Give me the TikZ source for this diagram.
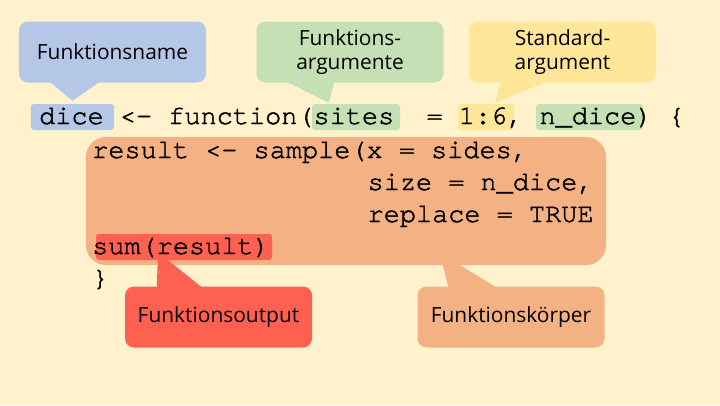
\documentclass[tikz,border=0pt]{standalone}
\usepackage{fontspec}
\setsansfont{Open Sans}
\setmonofont[RawFeature={embolden=1.6}]{TeX Gyre Cursor}
\usetikzlibrary{calc}
\definecolor{bgyellow}{HTML}{FFF2CC}
\definecolor{nameblue}{HTML}{B4C7E7}
\definecolor{arggreen}{HTML}{C5E0B4}
\definecolor{defyellow}{HTML}{FFE699}
\definecolor{bodyorange}{HTML}{F4B183}
\definecolor{outred}{HTML}{FF6150}
\begin{document}
\begin{tikzpicture}[x=1bp,y=-1bp]

\tikzset{callout/.style={rectangle,rounded corners=9bp,minimum width=187bp,minimum height=61bp,inner sep=0pt,align=center,text=black,font=\sffamily\fontsize{21}{24.5}\selectfont},}
\tikzset{hilite/.style={rectangle,rounded corners=3bp,minimum height=26bp,inner sep=0pt},}
\tikzset{code/.style={anchor=base west,inner sep=0pt,text=black,font=\ttfamily\fontsize{27}{32}\selectfont},}

\fill[bgyellow] (0,0) rectangle (720,405);
\useasboundingbox (0,0) rectangle (720,405);

%KOERPER
\draw (346,201) node [rectangle,rounded corners=20bp,minimum width=520bp,minimum height=128bp,fill=bodyorange] (body) {};

%MARKIERUNGEN
\draw (72.5,117) node [hilite,fill=nameblue,minimum width=83bp] (hldice) {};
\draw (356,117) node [hilite,fill=arggreen,minimum width=88bp] (hlsites) {};
\draw (486,117) node [hilite,fill=defyellow,minimum width=56bp] (hlrange) {};
\draw (589.5,117) node [hilite,fill=arggreen,minimum width=107bp] (hlndice) {};
\draw (184,247) node [hilite,fill=outred,minimum width=176bp] (hlsum) {};

%CALLOUTS
\draw (112.5,52) node [callout,fill=nameblue] (cname) {Funktionsname};
\draw (350,52) node [callout,fill=arggreen] (cargs) {Funktions-\\argumente};
\draw (562.5,52) node [callout,fill=defyellow] (cdefault) {Standard-\\argument};
\draw (218.5,317) node [callout,fill=outred] (coutput) {Funktionsoutput};
\draw (511,317) node [callout,fill=bodyorange] (cbody) {Funktionskörper};

\fill[nameblue] ([xshift=31bp,yshift=1bp]cname.south west) -- ([yshift=3bp]hldice.north) -- ([xshift=81bp,yshift=1bp]cname.south west) -- cycle;
\fill[arggreen] ([xshift=30bp,yshift=1bp]cargs.south west) -- ([xshift=-27bp,yshift=1bp]hlsites.north) -- ([xshift=78bp,yshift=1bp]cargs.south west) -- cycle;
\fill[defyellow] ([xshift=32bp,yshift=1bp]cdefault.south west) -- ([xshift=9bp,yshift=1bp]hlrange.north) -- ([xshift=78bp,yshift=1bp]cdefault.south west) -- cycle;
\fill[outred] ([xshift=32bp,yshift=-1bp]coutput.north west) -- ([xshift=-26bp,yshift=8bp]hlsum.south) -- ([xshift=77bp,yshift=-1bp]coutput.north west) -- cycle;
\fill[bodyorange] ([xshift=31bp,yshift=-1bp]cbody.north west) -- ([xshift=94bp,yshift=12bp]body.south) -- ([xshift=79bp,yshift=-1bp]cbody.north west) -- cycle;

%CODE
\draw (39,124) node [code] (line1) {dice <- function(sites\ \ = 1:6, n\_dice) \{};
\draw (92,158) node [code] (line2) {result <- sample(x = sides,};
\draw (367.4,190) node [code] (line3) {size = n\_dice,};
\draw (367.4,222) node [code] (line4) {replace = TRUE};
\draw (92,254) node [code] (line5) {sum(result)};
\draw (92,286) node [code] (line6) {\}};

\end{tikzpicture}
\end{document}
